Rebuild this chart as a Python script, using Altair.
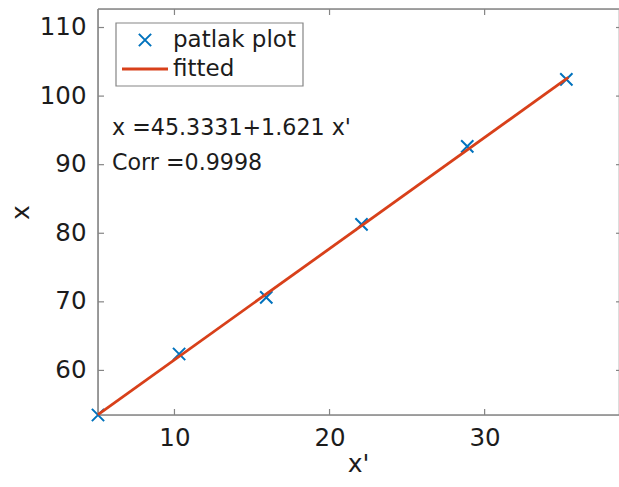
import altair as alt
import pandas as pd

# data
px = [5.07, 10.3, 15.92, 22.06, 28.88, 35.27]
py = [53.5, 62.4, 70.65, 81.3, 92.68, 102.45]
fit_x = [5.07, 35.4]
fit_y = [53.55, 102.72]
xticks = [10, 20, 30]
yticks = [60, 70, 80, 90, 100, 110]
xdom = [5.07, 38.6]
ydom = [53.5, 112.7]

W, H = 520, 406
FONT = "DejaVu Sans"
GREY = "#858585"
BLUE = "#0072BD"
RED = "#D8401A"
TXT = "#1c1c1c"

pts = pd.DataFrame({"x": px, "y": py})
fit = pd.DataFrame({"x": fit_x, "y": fit_y})
xt = pd.DataFrame({"x": xticks})
yt = pd.DataFrame({"y": yticks})
one = pd.DataFrame({"a": [0]})

xs = alt.Scale(domain=xdom, nice=False, zero=False)
ys = alt.Scale(domain=ydom, nice=False, zero=False)
ax_x = alt.Axis(values=xticks, grid=False, domain=False, ticks=False,
                labelFontSize=24.5, labelPadding=11, labelColor=TXT,
                title="x'", titleFontSize=25, titleFontWeight="normal",
                titleColor=TXT, titleY=48, titleBaseline="middle")
ax_y = alt.Axis(values=yticks, grid=False, domain=False, ticks=False,
                labelFontSize=24.5, labelPadding=12, labelColor=TXT,
                title="x", titleFontSize=25, titleFontWeight="normal",
                titleColor=TXT, titleX=-78, titleY=H / 2,
                titleAngle=270, titleBaseline="middle")

X = lambda: alt.X("x:Q", scale=xs, axis=ax_x)
Y = lambda: alt.Y("y:Q", scale=ys, axis=ax_y)

cross = "M-1,-1L1,1M1,-1L-1,1"

points = alt.Chart(pts).mark_point(shape=cross, filled=False, color=BLUE,
                                   strokeWidth=2, size=150, opacity=1).encode(x=X(), y=Y())
line = alt.Chart(fit).mark_line(color=RED, strokeWidth=2.8).encode(x=X(), y=Y())

# box (right edge lies just outside the picture)
border = alt.Chart(one).mark_rule(color=GREY, strokeWidth=1.6)
btop = border.encode(x=alt.value(0), x2=alt.value(W + 2), y=alt.value(0))
bbot = border.encode(x=alt.value(0), x2=alt.value(W + 2), y=alt.value(H))
bleft = border.encode(x=alt.value(0), y=alt.value(0), y2=alt.value(H))

tl = 6
bt = alt.Chart(xt).mark_rule(color=GREY, strokeWidth=1.2).encode(
    x=X(), y=alt.value(H), y2=alt.value(H - tl))
tt = alt.Chart(xt).mark_rule(color=GREY, strokeWidth=1.2).encode(
    x=X(), y=alt.value(0), y2=alt.value(tl))
lt = alt.Chart(yt).mark_rule(color=GREY, strokeWidth=1.2).encode(
    y=Y(), x=alt.value(0), x2=alt.value(tl))
rt = alt.Chart(yt).mark_rule(color=GREY, strokeWidth=1.2).encode(
    y=Y(), x=alt.value(W + 1), x2=alt.value(W - 2))

# legend (drawn by hand)
lbox = alt.Chart(one).mark_rect(
    fill="white", stroke=GREY, strokeWidth=1.2).encode(
    x=alt.value(18), x2=alt.value(205), y=alt.value(14), y2=alt.value(77))
lmark = alt.Chart(one).mark_point(
    shape=cross, filled=False, color=BLUE, strokeWidth=2, size=150, opacity=1).encode(
    x=alt.value(47), y=alt.value(31))
lline = alt.Chart(one).mark_rule(color=RED, strokeWidth=2.8).encode(
    x=alt.value(24), x2=alt.value(70), y=alt.value(60))
ltxt1 = alt.Chart(one).mark_text(
    align="left", baseline="middle", fontSize=23, font=FONT, color=TXT).encode(
    x=alt.value(75), y=alt.value(31), text=alt.value("patlak plot"))
ltxt2 = alt.Chart(one).mark_text(
    align="left", baseline="middle", fontSize=23, font=FONT, color=TXT).encode(
    x=alt.value(75), y=alt.value(60), text=alt.value("fitted"))

ann1 = alt.Chart(one).mark_text(
    align="left", baseline="middle", fontSize=22.2, font=FONT, color=TXT).encode(
    x=alt.value(14), y=alt.value(119), text=alt.value("x =45.3331+1.621 x'"))
ann2 = alt.Chart(one).mark_text(
    align="left", baseline="middle", fontSize=22.2, font=FONT, color=TXT).encode(
    x=alt.value(14), y=alt.value(154), text=alt.value("Corr =0.9998"))

chart = alt.layer(btop, bbot, bleft, points, line, bt, tt, lt, rt, lbox, lmark, lline,
                  ltxt1, ltxt2, ann1, ann2).properties(
    width=W, height=H,
    autosize=alt.AutoSizeParams(type="none"),
    padding={"left": 98, "top": 9, "right": 1, "bottom": 72},
    background="white",
).configure_view(stroke=None).configure(
    font=FONT
).configure_axis(labelFont=FONT, titleFont=FONT)

chart.save("out.html", embed_options={"renderer": "svg", "actions": False})
